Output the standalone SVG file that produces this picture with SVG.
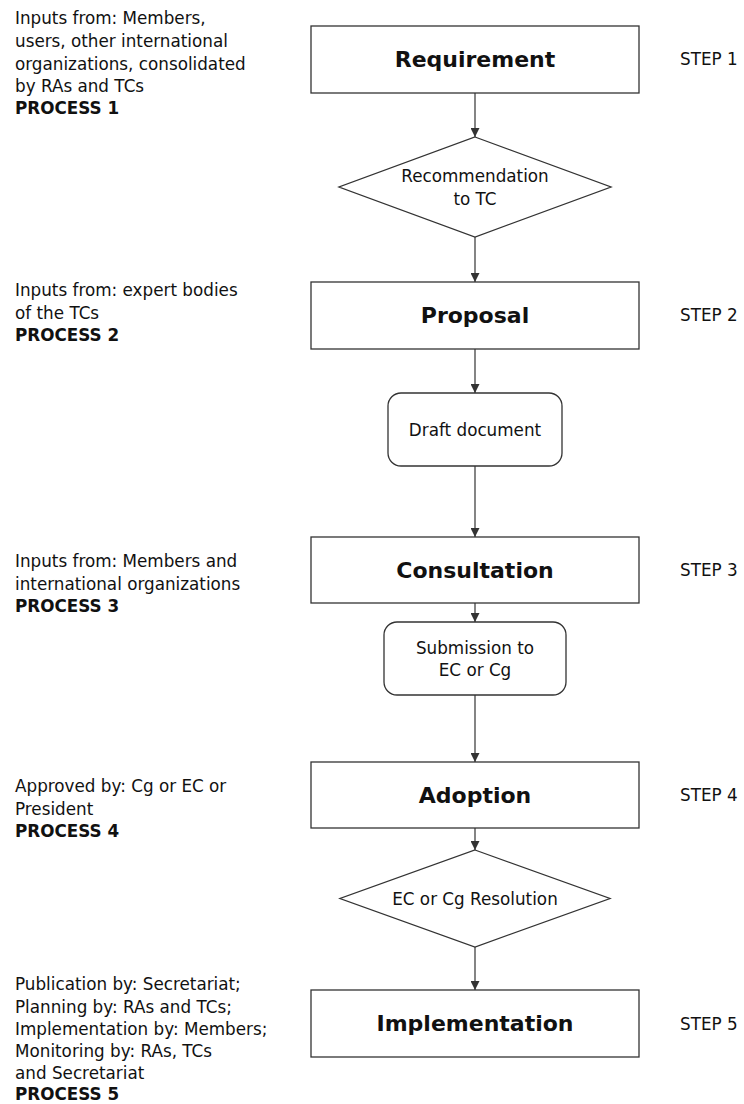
<svg xmlns="http://www.w3.org/2000/svg" width="744" height="1104" viewBox="0 0 744 1104">
<style>
.box{fill:#fff;stroke:#333;stroke-width:1.3}
.t{font-family:"DejaVu Sans","Noto Sans",sans-serif;font-size:16.8px;fill:#111}
.b{font-weight:bold}
.h{font-family:"DejaVu Sans","Noto Sans",sans-serif;font-size:22px;font-weight:bold;fill:#111;text-anchor:middle}
.c{text-anchor:middle}
.ln{stroke:#333;stroke-width:1.2;fill:none;marker-end:url(#ah)}
</style>
<defs>
<marker id="ah" viewBox="0 0 10 10" refX="10" refY="5" markerWidth="9" markerHeight="9" markerUnits="userSpaceOnUse" orient="auto">
<path d="M0,0 L10,5 L0,10 Z" fill="#333"/>
</marker>
</defs>
<rect width="744" height="1104" fill="#fff"/>
<g id="connectors">
<line class="ln" x1="475" y1="93" x2="475" y2="137"/>
<line class="ln" x1="475" y1="237" x2="475" y2="282"/>
<line class="ln" x1="475" y1="349" x2="475" y2="393"/>
<line class="ln" x1="475" y1="466" x2="475" y2="537"/>
<line class="ln" x1="475" y1="603" x2="475" y2="622"/>
<line class="ln" x1="475" y1="695" x2="475" y2="762"/>
<line class="ln" x1="475" y1="828" x2="475" y2="850"/>
<line class="ln" x1="475" y1="947" x2="475" y2="990"/>
</g>
<g id="requirement">
<rect class="box" x="311" y="26" width="328" height="67"/>
<text class="h" x="475" y="67">Requirement</text>
</g>
<g id="recommendation">
<polygon class="box" points="475,137 611,187 475,237 339,187"/>
<text class="t c" x="475" y="182">Recommendation</text>
<text class="t c" x="475" y="205">to TC</text>
</g>
<g id="proposal">
<rect class="box" x="311" y="282" width="328" height="67"/>
<text class="h" x="475" y="323">Proposal</text>
</g>
<g id="draft">
<rect class="box" x="388" y="393" width="174" height="73" rx="13"/>
<text class="t c" x="475" y="436">Draft document</text>
</g>
<g id="consultation">
<rect class="box" x="311" y="537" width="328" height="66"/>
<text class="h" x="475" y="578">Consultation</text>
</g>
<g id="submission">
<rect class="box" x="384" y="622" width="182" height="73" rx="13"/>
<text class="t c" x="475" y="654">Submission to</text>
<text class="t c" x="475" y="676">EC or Cg</text>
</g>
<g id="adoption">
<rect class="box" x="311" y="762" width="328" height="66"/>
<text class="h" x="475" y="803">Adoption</text>
</g>
<g id="resolution">
<polygon class="box" points="475,850 610,898.5 475,947 340,898.5"/>
<text class="t c" x="475" y="905">EC or Cg Resolution</text>
</g>
<g id="implementation">
<rect class="box" x="311" y="990" width="328" height="67"/>
<text class="h" x="475" y="1031">Implementation</text>
</g>
<g id="steps">
<text class="t" x="680" y="65">STEP 1</text>
<text class="t" x="680" y="321">STEP 2</text>
<text class="t" x="680" y="576">STEP 3</text>
<text class="t" x="680" y="801">STEP 4</text>
<text class="t" x="680" y="1030">STEP 5</text>
</g>
<g id="process1">
<text class="t" x="15" y="24">Inputs from: Members,</text>
<text class="t" x="15" y="47">users, other international</text>
<text class="t" x="15" y="70">organizations, consolidated</text>
<text class="t" x="15" y="92">by RAs and TCs</text>
<text class="t b" x="15" y="114">PROCESS 1</text>
</g>
<g id="process2">
<text class="t" x="15" y="296">Inputs from: expert bodies</text>
<text class="t" x="15" y="319">of the TCs</text>
<text class="t b" x="15" y="341">PROCESS 2</text>
</g>
<g id="process3">
<text class="t" x="15" y="567">Inputs from: Members and</text>
<text class="t" x="15" y="590">international organizations</text>
<text class="t b" x="15" y="612">PROCESS 3</text>
</g>
<g id="process4">
<text class="t" x="15" y="792">Approved by: Cg or EC or</text>
<text class="t" x="15" y="815">President</text>
<text class="t b" x="15" y="837">PROCESS 4</text>
</g>
<g id="process5">
<text class="t" x="15" y="990">Publication by: Secretariat;</text>
<text class="t" x="15" y="1013">Planning by: RAs and TCs;</text>
<text class="t" x="15" y="1035">Implementation by: Members;</text>
<text class="t" x="15" y="1057">Monitoring by: RAs, TCs</text>
<text class="t" x="15" y="1079">and Secretariat</text>
<text class="t b" x="15" y="1100">PROCESS 5</text>
</g>
</svg>
